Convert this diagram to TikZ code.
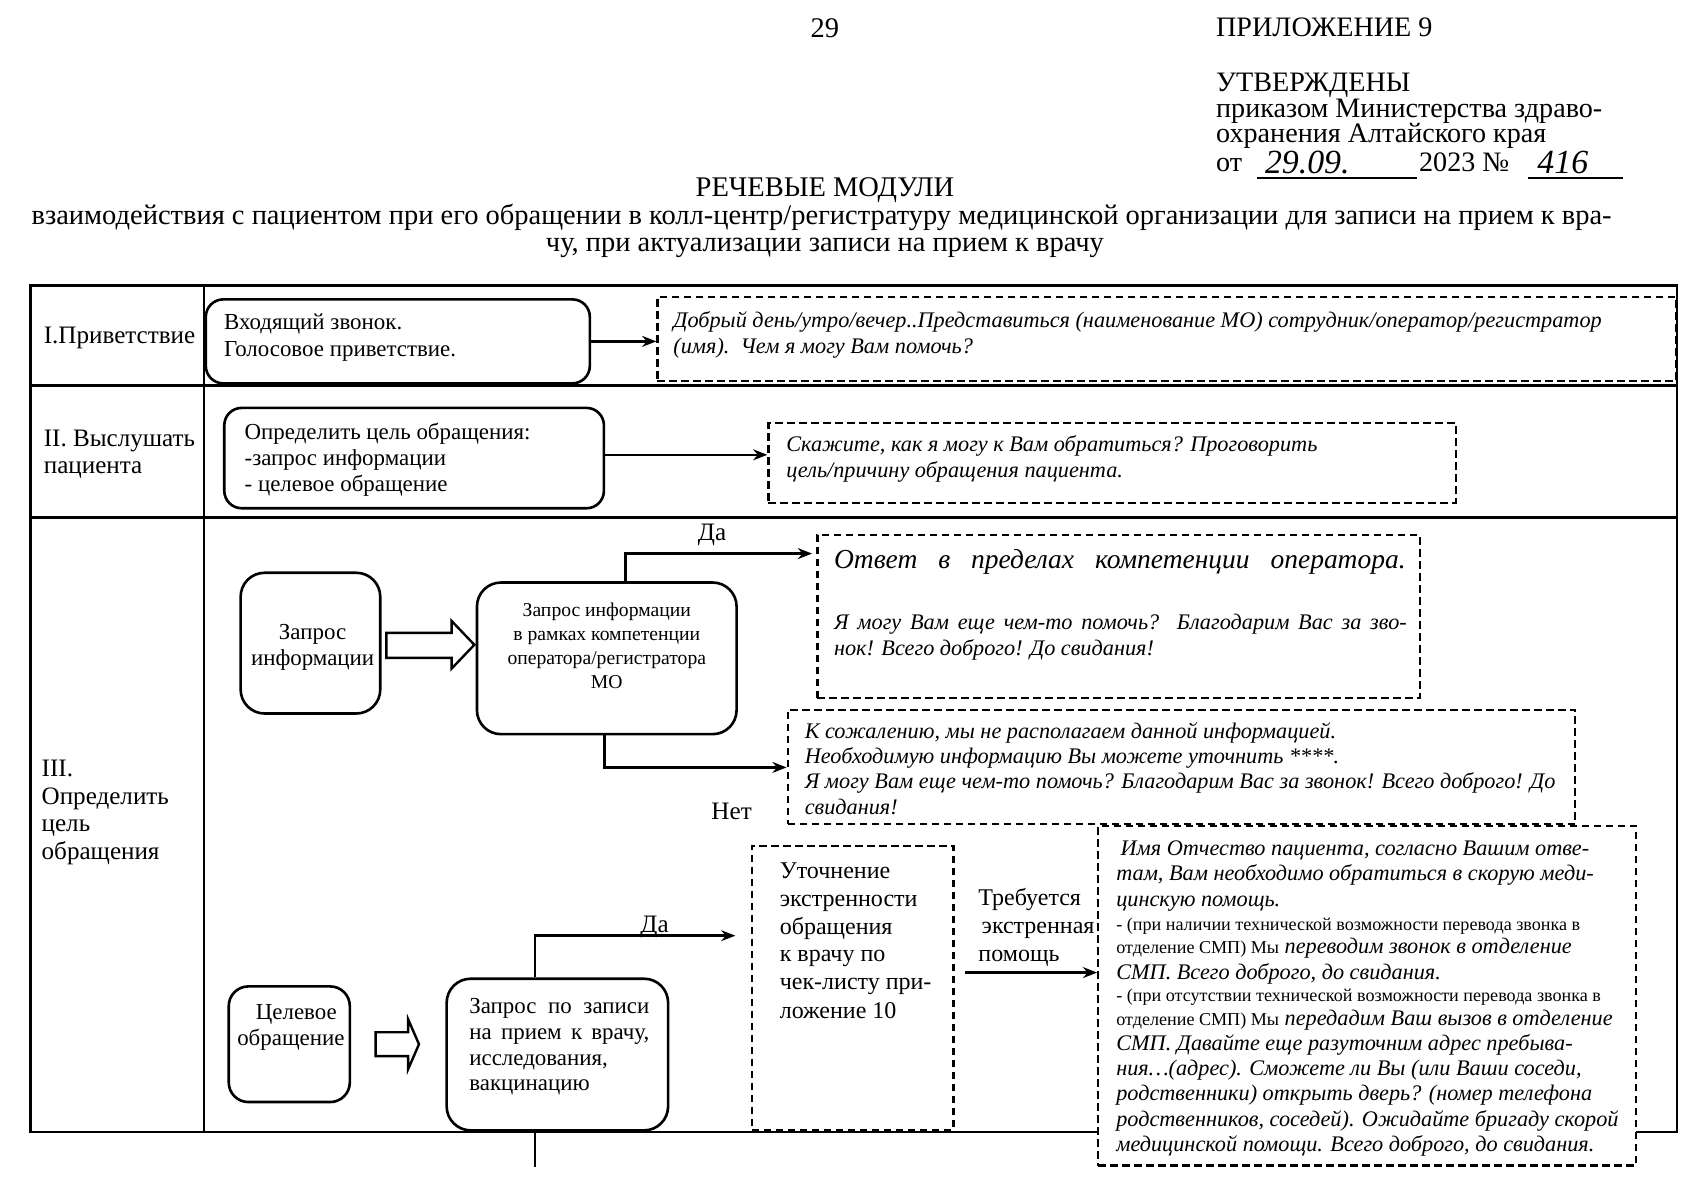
\documentclass[tikz,border=0pt]{standalone}
\usepackage{fontspec}
\setmainfont{Liberation Serif}
\usetikzlibrary{arrows.meta,calc}
\begin{document}
\begin{tikzpicture}[x=0.4975pt,y=-0.4975pt,
  box/.style={draw, line width=1.2pt, rounded corners=8pt, inner sep=0pt},
  dbox/.style={draw, line width=1pt, dash pattern=on 3.5pt off 2pt, inner sep=0pt, fill=white},
  arr/.style={line width=1.2pt, -{Stealth[length=6.5pt,width=5pt]}},
  conn/.style={line width=1.2pt},
  tbl/.style={line width=1.2pt},
  hd/.style={inner sep=0pt, anchor=base west, font=\fontsize{12.9}{14}\selectfont},
  hdc/.style={inner sep=0pt, anchor=base, font=\fontsize{13.05}{14}\selectfont},
  hand/.style={inner sep=0pt, anchor=base west, font=\fontsize{15.5}{16}\selectfont\itshape},
  lab/.style={inner sep=0pt, anchor=base west, font=\fontsize{11.5}{13}\selectfont},
  ut/.style={inner sep=0pt, anchor=base west, font=\fontsize{11}{13}\selectfont},
  rt/.style={inner sep=0pt, anchor=base west, font=\fontsize{10.5}{12}\selectfont},
  ct/.style={inner sep=0pt, anchor=base, font=\fontsize{10.5}{12}\selectfont},
  it/.style={inner sep=0pt, anchor=base west, font=\fontsize{10.2}{12}\selectfont\itshape},
  sm/.style={inner sep=0pt, anchor=base west, font=\fontsize{8.3}{9}\selectfont},
]
\useasboundingbox (0,0) rectangle (1568,1105.5);

% ---------- header ----------
\node[hdc] (pg) at (760,35) {29};
\node[hd] (pril) at (1120,34) {ПРИЛОЖЕНИЕ 9};
\node[hd] (utv) at (1120,84.5) {УТВЕРЖДЕНЫ};
\node[hd] (prik1) at (1120,108.5) {приказом Министерства здраво-};
\node[hd] (prik2) at (1120,131.5) {охранения Алтайского края};
\node[hd] (ot) at (1120,158) {от};
\node[hand] (date) at (1165,160) {29.09.};
\node[hd] (yr) at (1307,158) {2023 №};
\node[hand] (num) at (1416,160) {416};
\coordinate (u1a) at (1158,164); \coordinate (u1b) at (1305,164);
\coordinate (u2a) at (1408,164); \coordinate (u2b) at (1495,164);
\draw[line width=0.9pt] (u1a) -- (u1b);
\draw[line width=0.9pt] (u2a) -- (u2b);
\node[hdc] (title) at (760,181) {РЕЧЕВЫЕ МОДУЛИ};
\node[hdc] (sub1) at (757,206.5) {взаимодействия с пациентом при его обращении в колл-центр/регистратуру медицинской организации для записи на прием к вра-};
\node[hdc] (sub2) at (760,231.5) {чу, при актуализации записи на прием к врачу};

% ---------- table ----------
\draw[tbl] (28,263) rectangle (1545,1043);
\draw[line width=1.8pt] (28,263) -- (1545,263);
\draw[tbl] (28,355) -- (1545,355);
\draw[tbl] (28,477) -- (1545,477);
\draw[tbl] (188,263) -- (188,1043);

\node[lab] (l1) at (40,316) {I.Приветствие};
\node[lab] (l2a) at (40,411) {II. Выслушать};
\node[lab] (l2b) at (40,436) {пациента};
\node[lab] (l3a) at (38,715) {III.};
\node[lab] (l3b) at (38,741) {Определить};
\node[lab] (l3c) at (38,766) {цель};
\node[lab] (l3d) at (38,792) {обращения};

% ---------- row I ----------
\node[box, minimum width=176pt, minimum height=38.5pt] (b1) at (366.5,314.5) {};
\node[rt] (b1a) at (206,304) {Входящий звонок.};
\node[rt] (b1b) at (206,328) {Голосовое приветствие.};
\node[dbox, minimum width=467pt, minimum height=38.5pt] (d1) at (1075,312.5) {};
\node[it] (d1a) at (620,302) {Добрый день/утро/вечер..Представиться (наименование МО) сотрудник/оператор/регистратор};
\node[it] (d1b) at (620,326) {(имя).\ \ Чем я могу Вам помочь?};
\draw[arr] (b1.east) -- (b1.east -| d1.west);

% ---------- row II ----------
\node[box, minimum width=174pt, minimum height=46pt] (b2) at (381.5,422) {};
\node[rt] (b2a) at (225,405) {Определить цель обращения:};
\node[rt] (b2b) at (225,429) {-запрос информации};
\node[rt] (b2c) at (225,453) {- целевое обращение};
\node[dbox, minimum width=315pt, minimum height=36.5pt] (d2) at (1024.5,426.5) {};
\node[it] (d2a) at (724,416) {Скажите, как я могу к Вам обратиться? Проговорить};
\node[it] (d2b) at (724,440) {цель/причину обращения пациента.};
\coordinate (k0) at (556,419);
\draw[arr] (k0) -- (k0 -| d2.west);

% ---------- row III, information request ----------
\node[box, rounded corners=11pt, minimum width=64pt, minimum height=64.5pt] (zi) at (286,592.5) {};
\node[ct] (zia) at (288,589) {Запрос};
\node[ct] (zib) at (288,613) {информации};
\draw[line width=1.1pt] (356,583) -- (416,583) -- (416,572) -- (437,594) -- (416,616) -- (416,606) -- (356,606) -- cycle;
\node[box, rounded corners=11pt, minimum width=119pt, minimum height=69.5pt] (zr) at (559,606.5) {};
\node[ct, font=\fontsize{9}{11}\selectfont] (zra) at (559,568) {Запрос информации};
\node[ct, font=\fontsize{9}{11}\selectfont] (zrb) at (559,590) {в рамках компетенции};
\node[ct, font=\fontsize{9}{11}\selectfont] (zrc) at (559,612) {оператора/регистратора};
\node[ct, font=\fontsize{9}{11}\selectfont] (zrd) at (559,634) {МО};

\node[dbox, minimum width=276pt, minimum height=75pt] (dO) at (1030.5,568) {};
\node[it, font=\fontsize{12.6}{15}\selectfont\itshape] (dOa) at (768,524) {\makebox[262pt][s]{Ответ в пределах компетенции оператора.}};
\node[it] (dOb) at (768,580) {\makebox[262.5pt][s]{Я могу Вам еще чем-то помочь?\ \ Благодарим Вас за зво-}};
\node[it] (dOc) at (768,604) {нок! Всего доброго! До свидания!};

\node[dbox, minimum width=361pt, minimum height=52.5pt] (dK) at (1088.5,706.5) {};
\node[it] (dKa) at (741,680) {К сожалению, мы не располагаем данной информацией.};
\node[it] (dKb) at (741,703) {Необходимую информацию Вы можете уточнить ****.};
\node[it] (dKc) at (741,726) {Я могу Вам еще чем-то помочь? Благодарим Вас за звонок! Всего доброго! До};
\node[it] (dKd) at (741,750) {свидания!};

\coordinate (k1) at (576,510);
\draw[arr, shorten >=2pt] (zr.north -| k1) -- (k1) -- (k1 -| dO.west);
\node[ct, font=\fontsize{11.5}{13}\selectfont] (da1) at (656,498) {Да};
\coordinate (k2) at (557,707);
\draw[arr] (zr.south -| k2) -- (k2) -- (k2 -| dK.west);
\node[ct, font=\fontsize{11.5}{13}\selectfont] (net) at (674,755) {Нет};

% ---------- row III, target request ----------
\node[box, rounded corners=9pt, minimum width=55.5pt, minimum height=53pt] (ce) at (266.5,962) {};
\node[ct] (cea) at (273,939) {Целевое};
\node[ct] (ceb) at (268,963) {обращение};
\draw[line width=1.1pt] (346,951) -- (376,951) -- (376,939) -- (386,962) -- (376,985) -- (376,973) -- (346,973) -- cycle;
\node[box, rounded corners=11pt, minimum width=101.5pt, minimum height=69.5pt] (zp) at (513.5,971.5) {};
\node[rt] (zpa) at (432,934) {\makebox[82.5pt][s]{Запрос по записи}};
\node[rt] (zpb) at (432,958) {\makebox[82.5pt][s]{на прием к врачу,}};
\node[rt] (zpc) at (432,982) {исследования,};
\node[rt] (zpd) at (432,1005) {вакцинацию};

\node[dbox, minimum width=92.5pt, minimum height=130pt] (dU) at (785.5,910) {};
\foreach \yy/\lt [count=\i] in {809/{Уточнение}, 835/{экстренности}, 861/{обращения}, 886/{к врачу по}, 912/{чек-листу при-}, 938/{ложение 10}}
  \node[ut, name=dU\i] at (718,\yy) {\lt};

\coordinate (k3) at (493,862);
\draw[arr, shorten >=7pt] (zp.north -| k3) -- (k3) -- (k3 -| dU.west);
\node[ct, font=\fontsize{11.5}{13}\selectfont] (da2) at (603,859) {Да};
\coordinate (k4) at (493,1075);
\draw[conn] (zp.south -| k4) -- (k4);

\node[ut] (tr1) at (901,834) {Требуется};
\node[ut] (tr2) at (904,860) {экстренная};
\node[ut] (tr3) at (901,886) {помощь};

\node[dbox, minimum width=246.5pt, minimum height=155.5pt] (dB) at (1259.5,917.5) {};
\coordinate (k5) at (889,896);
\draw[arr] (k5) -- (k5 -| dB.west);

\node[it] (dB1) at (1032,788) {Имя Отчество пациента, согласно Вашим отве-};
\node[it] (dB2) at (1028,811) {там, Вам необходимо обратиться в скорую меди-};
\node[it] (dB3) at (1028,835) {цинскую помощь.};
\node[sm] (dB4) at (1028,857) {- (при наличии технической возможности перевода звонка в};
\node[it] (dB5) at (1028,878) {{\upshape\fontsize{8.3}{9}\selectfont отделение СМП) Мы} переводим звонок в отделение};
\node[it] (dB6) at (1028,902) {СМП. Всего доброго, до свидания.};
\node[sm] (dB7) at (1028,923) {- (при отсутствии технической возможности перевода звонка в};
\node[it] (dB8) at (1028,945) {{\upshape\fontsize{8.3}{9}\selectfont отделение СМП) Мы} передадим Ваш вызов в отделение};
\node[it] (dB9) at (1028,968) {СМП. Давайте еще разуточним адрес пребыва-};
\node[it] (dB10) at (1028,991) {ния…(адрес). Сможете ли Вы (или Ваши соседи,};
\node[it] (dB11) at (1028,1014) {родственники) открыть дверь? (номер телефона};
\node[it] (dB12) at (1028,1038) {родственников, соседей). Ожидайте бригаду скорой};
\node[it] (dB13) at (1028,1061) {медицинской помощи. Всего доброго, до свидания.};
\end{tikzpicture}
\end{document}
